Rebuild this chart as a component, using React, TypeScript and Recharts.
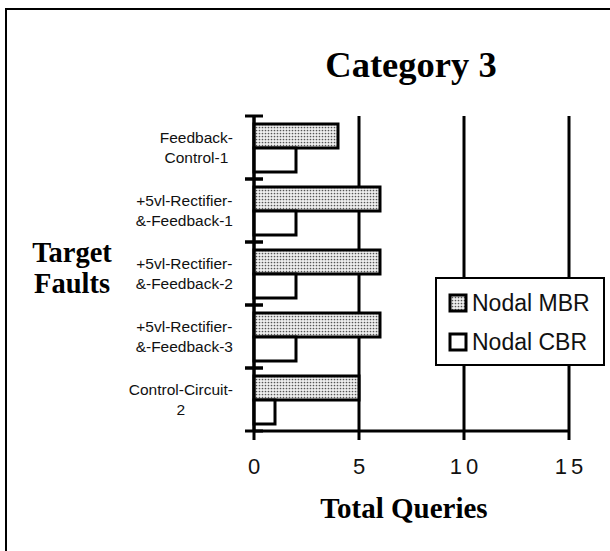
import React from "react";
import {
  Bar,
  BarChart,
  CartesianGrid,
  Legend,
  XAxis,
  YAxis,
} from "recharts";

// data
const faults = [
  "Feedback-Control-1",
  "+5vl-Rectifier-&-Feedback-1",
  "+5vl-Rectifier-&-Feedback-2",
  "+5vl-Rectifier-&-Feedback-3",
  "Control-Circuit-2",
];
const faultLines = [
  ["Feedback-", "Control-1"],
  ["+5vl-Rectifier-", "&-Feedback-1"],
  ["+5vl-Rectifier-", "&-Feedback-2"],
  ["+5vl-Rectifier-", "&-Feedback-3"],
  ["Control-Circuit-", "2"],
];
const nodalMBR = [4, 6, 6, 6, 5];
const nodalCBR = [2, 2, 2, 2, 1];
const queryTicks = [0, 5, 10, 15];

const data = faults.map((name, i) => ({
  name,
  lines: faultLines[i],
  mbr: nodalMBR[i],
  cbr: nodalCBR[i],
}));

const SANS = '"Liberation Sans", Arial, sans-serif';
const SERIF = '"Liberation Serif", "Times New Roman", serif';
const LABEL_FONT = 15.5;

let ctx: CanvasRenderingContext2D | null = null;
function textWidth(s: string) {
  if (!ctx) ctx = document.createElement("canvas").getContext("2d");
  if (!ctx) return s.length * LABEL_FONT * 0.5;
  ctx.font = `${LABEL_FONT}px ${SANS}`;
  return ctx.measureText(s).width;
}

function FaultTick(props: any) {
  const { x, y, payload, index } = props;
  const lines = faultLines[index] ?? [String(payload.value)];
  const half = payload.offset ?? 31.4;
  const blockW = Math.max(...lines.map(textWidth));
  const cx = x - 21 - blockW / 2;
  return (
    <g>
      <line x1={x - 9} x2={x + 9} y1={y - half} y2={y - half} stroke="#000" strokeWidth={3} />
      <line x1={x - 9} x2={x + 9} y1={y + half} y2={y + half} stroke="#000" strokeWidth={3} />
      {lines.map((l: string, i: number) => (
        <text
          key={i}
          x={cx}
          y={y - 5 + i * 20}
          textAnchor="middle"
          fontFamily={SANS}
          fontSize={LABEL_FONT}
          fill="#111"
        >
          {l}
        </text>
      ))}
    </g>
  );
}

function QueryTick(props: any) {
  const { x, y, payload } = props;
  return (
    <text
      x={x + 2}
      y={y + 32}
      textAnchor="middle"
      fontFamily={SANS}
      fontSize={22}
      letterSpacing={4}
      fill="#111"
    >
      {payload.value}
    </text>
  );
}

function Swatch({ dotted }: { dotted: boolean }) {
  return (
    <svg width={20} height={20} style={{ display: "block" }}>
      <defs>
        <pattern id="legendDots" width={3} height={3} patternUnits="userSpaceOnUse">
          <rect width={3} height={3} fill="#eeeeee" />
          <circle cx={1.5} cy={1.5} r={0.85} fill="#555" />
        </pattern>
      </defs>
      <rect
        x={2}
        y={2}
        width={16}
        height={16}
        fill={dotted ? "url(#legendDots)" : "#fff"}
        stroke="#000"
        strokeWidth={3}
      />
    </svg>
  );
}

function LegendBox() {
  const rows = [
    { label: "Nodal MBR", dotted: true, top: 26 },
    { label: "Nodal CBR", dotted: false, top: 65 },
  ];
  return (
    <div
      style={{
        position: "relative",
        width: 170,
        height: 89,
        boxSizing: "border-box",
        border: "2px solid #000",
        background: "#fff",
      }}
    >
      {rows.map((r) => (
        <div
          key={r.label}
          style={{
            position: "absolute",
            left: 11,
            top: r.top - 2 - 12,
            height: 24,
            display: "flex",
            alignItems: "center",
            fontFamily: SANS,
            fontSize: 23,
            color: "#111",
            whiteSpace: "nowrap",
          }}
        >
          <Swatch dotted={r.dotted} />
          <span style={{ marginLeft: 4 }}>{r.label}</span>
        </div>
      ))}
    </div>
  );
}

export default function App() {
  return (
    <div
      style={{
        position: "absolute",
        left: 0,
        top: 0,
        width: 610,
        height: 551,
        overflow: "hidden",
        background: "#fff",
      }}
    >
      <div
        style={{
          position: "absolute",
          left: 5,
          top: 8,
          width: 640,
          height: 600,
          border: "2px solid #000",
        }}
      />
      <div style={{ position: "absolute", left: 0, top: 0 }}>
        <BarChart
          width={610}
          height={551}
          layout="vertical"
          data={data}
          margin={{ top: 116, right: 41, bottom: 70, left: 0 }}
          barGap={0}
          barSize={24}
        >
          <defs>
            <pattern id="barDots" width={3} height={3} patternUnits="userSpaceOnUse">
              <rect width={3} height={3} fill="#eeeeee" />
              <circle cx={1.5} cy={1.5} r={0.85} fill="#555" />
            </pattern>
          </defs>
          <text
            x={411}
            y={77}
            textAnchor="middle"
            fontFamily={SERIF}
            fontWeight="bold"
            fontSize={36.5}
            fill="#000"
          >
            Category 3
          </text>
          <text
            x={404}
            y={518}
            textAnchor="middle"
            fontFamily={SERIF}
            fontWeight="bold"
            fontSize={29}
            fill="#000"
          >
            Total Queries
          </text>
          <text
            x={72}
            y={262}
            textAnchor="middle"
            fontFamily={SERIF}
            fontWeight="bold"
            fontSize={28.5}
            fill="#000"
          >
            <tspan x={72} y={262}>Target</tspan>
            <tspan x={72} y={293}>Faults</tspan>
          </text>
          <CartesianGrid horizontal={false} stroke="#000" strokeWidth={3} />
          <XAxis
            type="number"
            domain={[0, 15]}
            ticks={queryTicks}
            height={50}
            axisLine={{ stroke: "#000", strokeWidth: 3 }}
            tickLine={{ stroke: "#000", strokeWidth: 3 }}
            tickSize={9}
            tickMargin={2}
            tick={<QueryTick />}
            interval={0}
          />
          <YAxis
            type="category"
            dataKey="name"
            width={254}
            axisLine={{ stroke: "#000", strokeWidth: 3 }}
            tickLine={false}
            tickSize={0}
            tickMargin={0}
            tick={<FaultTick />}
            interval={0}
          />
          <Legend
            layout="horizontal"
            verticalAlign="middle"
            align="center"
            content={<LegendBox />}
            wrapperStyle={{ position: "absolute", left: 435, top: 277, width: 170, height: 89 }}
          />
          <Bar
            dataKey="mbr"
            name="Nodal MBR"
            fill="url(#barDots)"
            stroke="#000"
            strokeWidth={3}
            isAnimationActive={false}
          />
          <Bar
            dataKey="cbr"
            name="Nodal CBR"
            fill="#fff"
            stroke="#000"
            strokeWidth={3}
            isAnimationActive={false}
          />
        </BarChart>
      </div>
    </div>
  );
}
